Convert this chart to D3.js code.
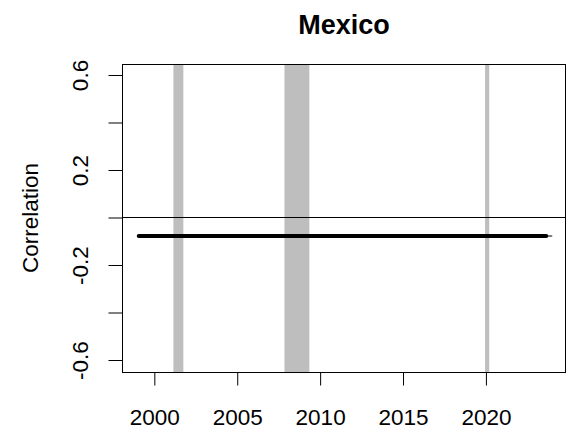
<!DOCTYPE html>
<html>
<head>
<meta charset="utf-8">
<script src="https://cdn.jsdelivr.net/npm/d3@7"></script>
<style>
  html, body { margin: 0; padding: 0; background: #fff; }
  svg { display: block; font-family: "Liberation Sans", Arial, sans-serif; }
</style>
</head>
<body>
<svg id="chart" width="567" height="433"></svg>
<script>
// Chart data
const title = "Mexico";
const yLabel = "Correlation";
const xTicks = [2000, 2005, 2010, 2015, 2020];
const yTicks = [-0.6, -0.4, -0.2, 0, 0.2, 0.4, 0.6];
const yTickLabels = ["-0.6", "", "-0.2", "", "0.2", "", "0.6"];
// Recession periods (start, end in decimal years)
const recessionStart = [2001.15, 2007.85, 2019.95];
const recessionEnd = [2001.75, 2009.35, 2020.2];
// Correlation series
const corrYears = [1999.06, 2023.64];
const corrValues = [-0.078, -0.078];
const corrFullYears = [1999.06, 2024.0];
const corrFullValues = [-0.078, -0.078];

const svg = d3.select("#chart");
const plot = { left: 122, right: 566, top: 64, bottom: 372 };

const x = d3.scaleLinear().domain([1998.05, 2024.83]).range([plot.left, plot.right]);
const y = d3.scaleLinear().domain([-0.6505, 0.6463]).range([plot.bottom, plot.top]);

svg.append("defs").append("clipPath").attr("id", "clip")
  .append("rect")
  .attr("x", plot.left).attr("y", plot.top)
  .attr("width", plot.right - plot.left).attr("height", plot.bottom - plot.top);

const inner = svg.append("g").attr("clip-path", "url(#clip)");

// Recession shading
inner.selectAll("rect.band")
  .data(recessionStart.map((s, i) => ({ s, e: recessionEnd[i] })))
  .join("rect")
  .attr("class", "band")
  .attr("x", d => x(d.s))
  .attr("width", d => x(d.e) - x(d.s))
  .attr("y", plot.top)
  .attr("height", plot.bottom - plot.top)
  .attr("fill", "#bebebe");

// Zero reference line
inner.append("line")
  .attr("x1", plot.left).attr("x2", plot.right)
  .attr("y1", y(0)).attr("y2", y(0))
  .attr("stroke", "#000").attr("stroke-width", 1);

const line = d3.line().x(d => x(d[0])).y(d => y(d[1]));

// Thin full-length series
inner.append("path")
  .datum(corrFullYears.map((yr, i) => [yr, corrFullValues[i]]))
  .attr("d", line)
  .attr("fill", "none").attr("stroke", "#000").attr("stroke-width", 1);

// Thick correlation line
inner.append("path")
  .datum(corrYears.map((yr, i) => [yr, corrValues[i]]))
  .attr("d", line)
  .attr("fill", "none").attr("stroke", "#000")
  .attr("stroke-width", 4).attr("stroke-linecap", "round");

// Plot box
svg.append("rect")
  .attr("x", plot.left + 0.5).attr("y", plot.top + 0.5)
  .attr("width", plot.right - plot.left - 1).attr("height", plot.bottom - plot.top)
  .attr("fill", "none").attr("stroke", "#000").attr("stroke-width", 1);

// X axis
const xAxis = d3.axisBottom(x).tickValues(xTicks).tickFormat(d3.format("d"))
  .tickSize(13).tickPadding(24).tickSizeOuter(0);
const gx = svg.append("g").attr("transform", `translate(0,${plot.bottom + 0.5})`).call(xAxis);
gx.select(".domain").attr("d", `M${x(xTicks[0])},0H${x(xTicks[xTicks.length - 1])}`);
gx.selectAll("text").attr("font-size", 22.5).attr("fill", "#000")
  .attr("font-family", "Liberation Sans, Arial, sans-serif");

// Y axis
const yAxis = d3.axisLeft(y).tickValues(yTicks)
  .tickFormat((d, i) => yTickLabels[i]).tickSize(14).tickSizeOuter(0);
const gy = svg.append("g").attr("transform", `translate(${plot.left + 0.5},0)`).call(yAxis);
gy.select(".domain").attr("d", `M0,${y(yTicks[0])}V${y(yTicks[yTicks.length - 1])}`);
gy.selectAll("text")
  .attr("font-size", 22.5).attr("fill", "#000")
  .attr("font-family", "Liberation Sans, Arial, sans-serif")
  .attr("x", null).attr("dy", null)
  .attr("text-anchor", "middle")
  .attr("dominant-baseline", "central")
  .attr("transform", d => `translate(${80.7 - plot.left - 0.5},0) rotate(-90)`);

// Title
svg.append("text")
  .attr("x", (plot.left + plot.right) / 2).attr("y", 34)
  .attr("text-anchor", "middle")
  .attr("font-size", 27).attr("font-weight", "bold")
  .text(title);

// Y label
svg.append("text")
  .attr("transform", `translate(30,${(plot.top + plot.bottom) / 2}) rotate(-90)`)
  .attr("text-anchor", "middle").attr("dominant-baseline", "central")
  .attr("font-size", 22.5)
  .text(yLabel);
</script>
</body>
</html>
